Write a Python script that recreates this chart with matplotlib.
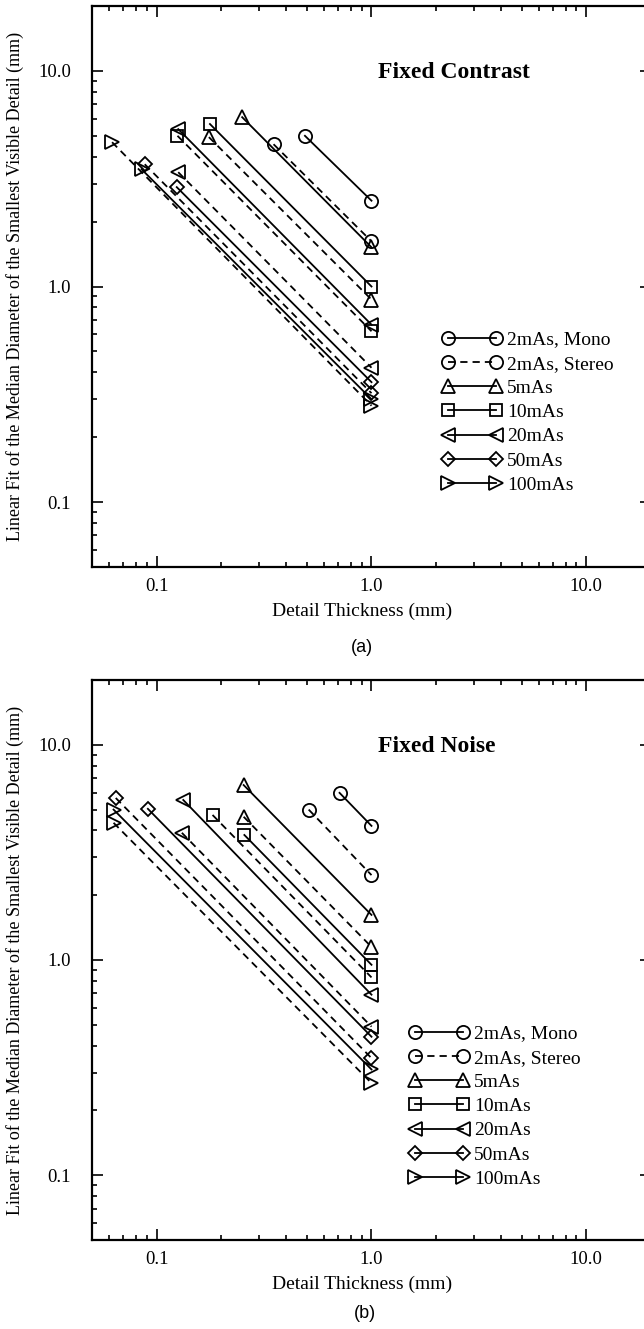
import numpy as np
import matplotlib
matplotlib.use("Agg")
import matplotlib.pyplot as plt
from matplotlib.ticker import LogLocator, NullFormatter

plt.rcParams['font.family'] = ['Liberation Serif', 'DejaVu Serif']

################### data ###################
doses = ['2mAs', '5mAs', '10mAs', '20mAs', '50mAs', '100mAs']
markers = ['o', '^', 's', '<', 'D', '>']
msizes = [9.5, 10.5, 9, 10.5, 7.5, 10.5]
x_end = 1.0

# (a) fixed contrast
contrast_mono_x = [0.49, 0.25, 0.177, 0.126, 0.124, 0.085]
contrast_mono_y0 = [5.0, 6.1, 5.67, 5.37, 2.89, 3.5]
contrast_mono_y1 = [2.5, 1.52, 1.0, 0.665, 0.36, 0.30]
contrast_stereo_x = [0.35, 0.175, 0.125, 0.126, 0.088, 0.062]
contrast_stereo_y0 = [4.57, 4.93, 5.0, 3.39, 3.69, 4.67]
contrast_stereo_y1 = [1.62, 0.87, 0.62, 0.42, 0.32, 0.28]

# (b) fixed noise
noise_mono_x = [0.71, 0.254, 0.256, 0.133, 0.091, 0.063]
noise_mono_y0 = [5.98, 6.5, 3.81, 5.54, 5.04, 5.0]
noise_mono_y1 = [4.2, 1.62, 0.95, 0.69, 0.44, 0.31]
noise_stereo_x = [0.51, 0.254, 0.182, 0.131, 0.0645, 0.063]
noise_stereo_y0 = [5.0, 4.63, 4.72, 3.9, 5.66, 4.34]
noise_stereo_y1 = [2.48, 1.15, 0.83, 0.49, 0.35, 0.268]

tick_vals = [0.1, 1.0, 10.0]
tick_labels = ['0.1', '1.0', '10.0']

W, H = 644, 1329
fig = plt.figure(figsize=(W / 100, H / 100), dpi=100)


def px_box(left, top, right, bottom):
    return [left / W, 1 - bottom / H, (right - left) / W, (bottom - top) / H]


def panel(ax, title, mx, my0, my1, sx, sy0, sy1, leg_xy):
    handles = []
    for i in range(len(doses)):
        lm, = ax.plot([mx[i], x_end], [my0[i], my1[i]], color='k', lw=1.3,
                      marker=markers[i], ms=msizes[i], mfc='none', mec='k', mew=1.3)
        ls, = ax.plot([sx[i], x_end], [sy0[i], sy1[i]], color='k', lw=1.3,
                      ls=(0, (4, 2.8)), marker=markers[i], ms=msizes[i],
                      mfc='none', mec='k', mew=1.3)
        if i == 0:
            handles += [lm, ls]
        else:
            handles.append(lm)
    labs = ['2mAs, Mono', '2mAs, Stereo'] + doses[1:]
    ax.set_xscale('log')
    ax.set_yscale('log')
    ax.set_xlim(0.05, 20)
    ax.set_ylim(0.05, 20)
    ax.set_xticks(tick_vals, tick_labels)
    ax.set_yticks(tick_vals, tick_labels)
    for a in (ax.xaxis, ax.yaxis):
        a.set_minor_locator(LogLocator(base=10, subs=np.arange(2, 10)))
        a.set_minor_formatter(NullFormatter())
    ax.tick_params(which='both', direction='in', top=True, right=True,
                   labelsize=13.5, width=1.2)
    ax.tick_params(which='major', length=8)
    ax.tick_params(axis='x', which='major', pad=8)
    ax.tick_params(axis='y', which='major', pad=15)
    ax.tick_params(which='minor', length=3.5)
    for sp in ax.spines.values():
        sp.set_linewidth(1.6)
    ax.set_xlabel('Detail Thickness (mm)', fontsize=14)
    ax.set_ylabel('Linear Fit of the Median Diameter of the Smallest Visible Detail (mm)',
                  fontsize=13)
    ax.xaxis.set_label_coords(0.484, -0.064)
    ax.yaxis.set_label_coords(-0.122, 0.5)
    ax.text(0.512, 0.882, title, transform=ax.transAxes, fontsize=17,
            fontweight='bold', ha='left', va='center')
    ax.legend(handles, labs, loc='upper left', bbox_to_anchor=leg_xy,
              frameon=False, numpoints=2, fontsize=14, handlelength=3.1,
              handletextpad=0.25, labelspacing=0.34, borderpad=0,
              borderaxespad=0)


ax1 = fig.add_axes(px_box(92, 6, 651, 567))
panel(ax1, 'Fixed Contrast', contrast_mono_x, contrast_mono_y0, contrast_mono_y1,
      contrast_stereo_x, contrast_stereo_y0, contrast_stereo_y1, (0.626, 0.421))
fig.text(362 / W, 1 - 647 / H, '(a)', fontsize=13, family='Liberation Sans',
         ha='center', va='center')

ax2 = fig.add_axes(px_box(92, 680, 651, 1240))
panel(ax2, 'Fixed Noise', noise_mono_x, noise_mono_y0, noise_mono_y1,
      noise_stereo_x, noise_stereo_y0, noise_stereo_y1, (0.567, 0.384))
fig.text(365 / W, 1 - 1313 / H, '(b)', fontsize=13, family='Liberation Sans',
         ha='center', va='center')

fig.savefig('out.png', dpi=100)
